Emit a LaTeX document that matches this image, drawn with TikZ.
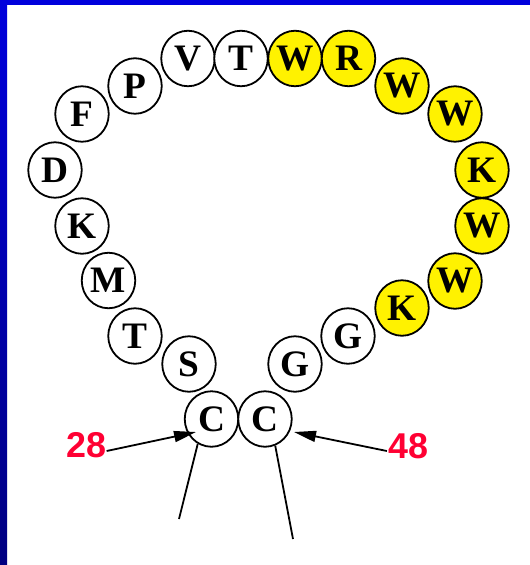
\documentclass[tikz,border=0pt]{standalone}
\usepackage{fontspec}
\setmainfont{Liberation Serif}
\newfontfamily\labelfont{Liberation Sans}
\usetikzlibrary{arrows.meta,calc,shapes.geometric}
\definecolor{frameblue}{RGB}{0,0,220}
\definecolor{framedark}{RGB}{0,0,128}
\definecolor{labelred}{RGB}{255,0,51}
\begin{document}
\begin{tikzpicture}[x=1bp,y=-1bp,
  res/.style={ellipse,draw,line width=1.8bp,minimum width=53.5bp,minimum height=55.5bp,
    inner sep=0pt,font=\fontsize{37.5}{37.5}\selectfont\bfseries},
  plain/.style={res,fill=white},
  hydro/.style={res,fill=yellow},
  num/.style={text=labelred,inner sep=0pt,font=\labelfont\fontsize{36}{36}\selectfont\bfseries},
  link/.style={line width=1.8bp},
  pointer/.style={link,-{Triangle[length=22bp,width=11bp]}}]

% page and frame
\useasboundingbox (0,0) rectangle (530,565);
\fill[white] (0,0) rectangle (530,565);
\shade[top color=frameblue,bottom color=framedark] (0,0) rectangle (7,565);
\fill[frameblue] (0,0) rectangle (530,5);

% loop of residues 28--48
\node[plain] (c28) at (211.5,419) {C};
\node[plain] (s29) at (189,364)   {S};
\node[plain] (t30) at (135,336)   {T};
\node[plain] (m31) at (108.5,280.5) {M};
\node[plain] (k32) at (82,226)    {K};
\node[plain] (d33) at (55,170)    {D};
\node[plain] (f34) at (82,114)    {F};
\node[plain] (p35) at (135,86)    {P};
\node[plain] (v36) at (188,58.5)  {V};
\node[plain] (t37) at (241,58.5)  {T};
\node[hydro] (w38) at (295,58.5)  {W};
\node[hydro] (r39) at (348.5,58.5) {R};
\node[hydro] (w40) at (402,86)    {W};
\node[hydro] (w41) at (455,114)   {W};
\node[hydro] (k42) at (482,170)   {K};
\node[hydro] (w43) at (482,226)   {W};
\node[hydro] (w44) at (455,281)   {W};
\node[hydro] (k45) at (402,308)   {K};
\node[plain] (g46) at (348,336)   {G};
\node[plain] (g47) at (295,364)   {G};
\node[plain] (c48) at (265,419)   {C};

% chain continuing out of the loop
\coordinate (endL) at (179,519);
\coordinate (endR) at (293,539);
\draw[link] (c28.241) -- (endL);
\draw[link] (c48.291) -- (endR);

% position labels
\node[num] (n28) at (86.5,445) {28};
\node[num] (n48) at (408,446) {48};
\coordinate (tip28) at ($(c28.center)+(-15.5,13)$);
\coordinate (tip48) at ($(c48.center)+(29,13)$);
\draw[pointer] ($(n28.east)+(0,6)$) -- (tip28);
\draw[pointer] ($(n48.west)+(-1,5)$) -- (tip48);
\end{tikzpicture}
\end{document}
